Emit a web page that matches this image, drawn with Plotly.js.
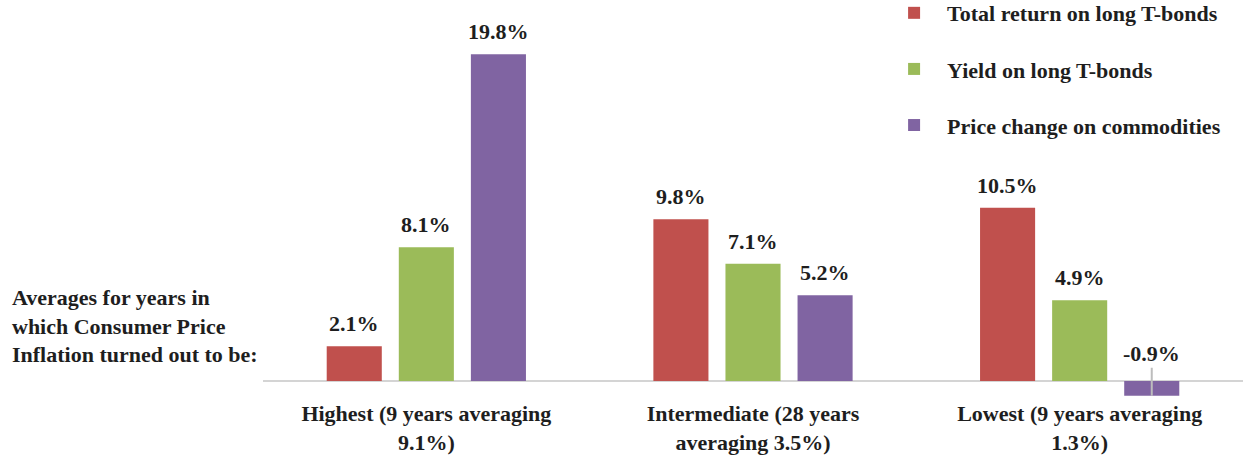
<!DOCTYPE html>
<html>
<head>
<meta charset="utf-8">
<script src="https://cdn.plot.ly/plotly-3.0.1.min.js"></script>
<style>html,body{margin:0;padding:0;background:#fff;}#chart{width:1245px;height:455px;}</style>
</head>
<body>
<div id="chart"></div>
<script>
const categories = ["Highest (9 years averaging<br>9.1%)", "Intermediate (28 years<br>averaging 3.5%)", "Lowest (9 years averaging<br>1.3%)"];
const seriesNames = ["Total return on long T-bonds", "Yield on long T-bonds", "Price change on commodities"];
const totalReturn = [2.1, 9.8, 10.5];
const yieldT = [8.1, 7.1, 4.9];
const commodities = [19.8, 5.2, -0.9];
const colors = ["#C0504D", "#9BBB59", "#8064A2"];
const sideNote = "Averages for years in<br>which Consumer Price<br>Inflation turned out to be:";

const FONT = "Liberation Serif";
const TXT = "#1e1e1e";
const FS = 22;
const bargap = 0.338, bargroupgap = 0.236;
const allSeries = [totalReturn, yieldT, commodities];
const idx = categories.map((c, i) => i);

const traces = allSeries.map((vals, s) => ({
  type: "bar",
  name: seriesNames[s],
  x: idx,
  y: vals,
  marker: {color: colors[s]},
  cliponaxis: false,
  legendgroup: "g" + s,
  hoverinfo: "skip"
}));

const slot = (1 - bargap) / allSeries.length;
const annotations = [];
allSeries.forEach((vals, s) => {
  vals.forEach((v, i) => {
    const xc = i + (s - (allSeries.length - 1) / 2) * slot;
    const label = "<b>" + v.toFixed(1) + "%</b>";
    if (v < 0) {
      annotations.push({
        x: xc, y: v, xref: "x", yref: "y", text: label,
        showarrow: true, arrowhead: 0, arrowwidth: 2, arrowcolor: "#bdbdbd",
        ax: 0, ay: -42,
        font: {family: FONT, size: FS, color: TXT}
      });
    } else {
      annotations.push({
        x: xc, y: v, xref: "x", yref: "y", text: label,
        showarrow: false, yanchor: "bottom", yshift: 8,
        font: {family: FONT, size: FS, color: TXT}
      });
    }
  });
});
annotations.push({
  xref: "paper", yref: "paper", x: -0.258, y: 0.19, xanchor: "left", yanchor: "middle",
  align: "left", showarrow: false, text: "<b>" + sideNote + "</b>",
  font: {family: FONT, size: FS, color: TXT}
});

const layout = {
  width: 1245, height: 455,
  margin: {l: 263, r: 2, t: 20, b: 57, autoexpand: false},
  paper_bgcolor: "#fff", plot_bgcolor: "#fff",
  barmode: "group", bargap: bargap, bargroupgap: bargroupgap,
  showlegend: true,
  legend: {
    x: 0.6307, y: 1.074, xanchor: "left", yanchor: "top",
    font: {family: FONT, size: FS, color: TXT, weight: "bold"},
    traceorder: "grouped", tracegroupgap: 24.5, itemwidth: 56, bgcolor: "rgba(0,0,0,0)"
  },
  xaxis: {
    range: [-0.5, 2.5], tickmode: "array", tickvals: idx, tickangle: 0,
    ticktext: categories.map(c => "<b>" + c + "</b>"),
    tickfont: {family: FONT, size: FS, color: TXT},
    showgrid: false, zeroline: false, showline: false, ticks: ""
  },
  yaxis: {
    range: [-1.03, 21.88], showgrid: false, showticklabels: false, ticks: "",
    zeroline: true, zerolinecolor: "#d4d4d4", zerolinewidth: 2, showline: false
  },
  annotations: annotations
};

Plotly.newPlot("chart", traces, layout, {displayModeBar: false, staticPlot: true});
</script>
</body>
</html>
